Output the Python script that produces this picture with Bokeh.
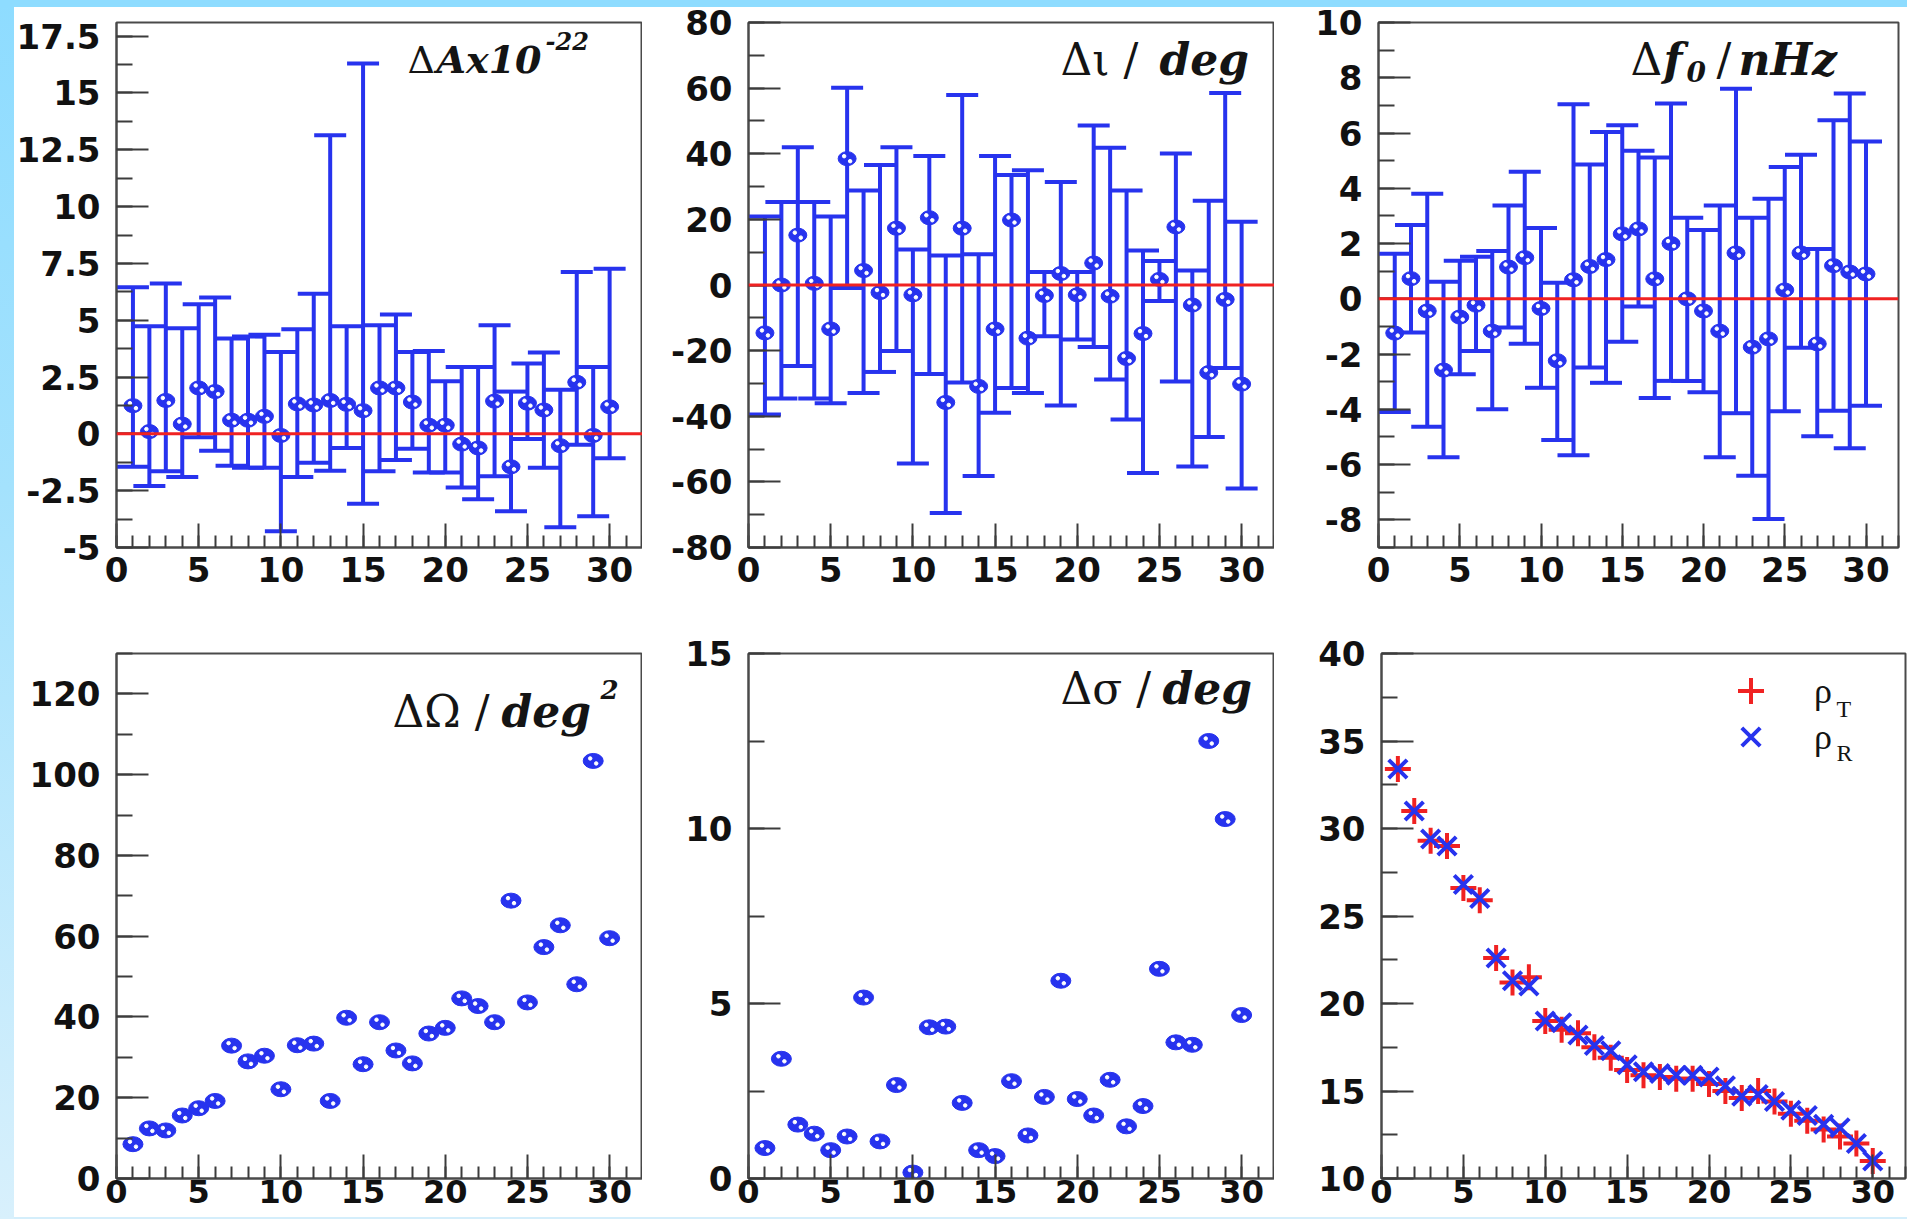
from bokeh.plotting import figure
from bokeh.models import (ColumnDataSource, Span, Label, Legend, LegendItem, Range1d,
                          SingleIntervalTicker, CustomJSTickFormatter, Row, Column)
from bokeh.embed import file_html
from bokeh.resources import INLINE

# ---------------------------------------------------------------- data
idx = list(range(1, 31))

# Delta A (x 10^-22): value, lower and upper end of the error bar
amp_val = [1.24, 0.10, 1.47, 0.43, 2.02, 1.86, 0.60, 0.60, 0.77, -0.07, 1.32, 1.27, 1.47, 1.30, 1.02,
           2.02, 2.02, 1.40, 0.38, 0.38, -0.45, -0.62, 1.44, -1.45, 1.35, 1.05, -0.52, 2.27, -0.07, 1.19]
amp_hi = [6.45, 4.73, 6.62, 4.65, 5.70, 6.00, 4.20, 4.28, 4.36, 3.60, 4.60, 6.17, 13.14, 4.73, 16.30,
          4.78, 5.25, 3.60, 3.65, 2.32, 2.94, 2.94, 4.78, 1.86, 3.10, 3.58, 1.94, 7.12, 2.94, 7.26]
amp_lo = [-1.45, -2.29, -1.65, -1.90, -0.15, -0.74, -1.40, -1.49, -1.49, -4.28, -1.90, -1.27, -1.62, -0.62, -3.08,
          -1.65, -1.15, -0.65, -1.70, -1.70, -2.36, -2.88, -1.87, -3.41, -0.23, -1.49, -4.11, -0.48, -3.63, -1.07]

# Delta iota / deg
inc_val = [-14.6, 0.0, 15.2, 0.5, -13.4, 38.5, 4.4, -2.3, 17.3, -3.0, 20.5, -35.8, 17.3, -30.9, -13.4,
           19.8, -16.2, -3.2, 3.5, -3.0, 6.7, -3.4, -22.4, -14.8, 1.7, 17.7, -6.1, -26.7, -4.4, -30.2]
inc_hi = [20.9, 25.3, 42.0, 25.3, 20.9, 60.1, 28.8, 36.6, 42.0, 10.8, 39.3, 9.0, 57.9, 9.4, 39.3,
          33.5, 35.0, 4.0, 31.4, 4.0, 48.6, 41.8, 28.8, 10.5, 7.3, 40.1, 4.4, 25.7, 58.5, 19.3]
inc_lo = [-39.5, -34.6, -24.7, -34.6, -36.0, -0.9, -32.9, -26.5, -20.1, -54.4, -27.1, -69.5, -29.7, -58.2, -38.9,
          -31.4, -32.9, -15.6, -36.7, -16.6, -18.9, -28.8, -41.0, -57.3, -4.9, -29.4, -55.3, -46.3, -25.3, -62.0]

# Delta f0 / nHz
f0_val = [-1.24, 0.73, -0.44, -2.58, -0.66, -0.23, -1.17, 1.15, 1.49, -0.35, -2.24, 0.69, 1.17, 1.42, 2.35,
          2.53, 0.72, 2.00, 0.00, -0.44, -1.17, 1.66, -1.75, -1.45, 0.32, 1.66, -1.63, 1.20, 0.97, 0.90]
f0_hi = [1.63, 2.67, 3.80, 0.62, 1.38, 1.52, 1.73, 3.38, 4.60, 2.56, 0.58, 7.04, 4.86, 6.04, 6.28,
         5.36, 5.11, 7.07, 2.93, 2.49, 3.38, 7.60, 2.93, 3.62, 4.77, 5.21, 1.80, 6.46, 7.43, 5.69]
f0_lo = [-4.10, -1.22, -4.63, -5.73, -2.73, -1.89, -4.00, -1.04, -1.63, -3.22, -5.11, -5.66, -2.49, -3.04, -1.55,
         -0.28, -3.59, -2.97, -2.97, -3.38, -5.73, -4.14, -6.40, -7.97, -4.07, -1.77, -4.97, -4.05, -5.41, -3.87]

# Delta Omega / deg^2
omega = [8.5, 12.4, 11.9, 15.6, 17.4, 19.2, 32.9, 29.0, 30.4, 22.1, 33.0, 33.4, 19.2, 39.8, 28.3,
         38.7, 31.7, 28.5, 35.9, 37.3, 44.6, 42.7, 38.7, 68.8, 43.6, 57.3, 62.7, 48.1, 103.4, 59.5]

# Delta sigma / deg
sigma = [0.87, 3.42, 1.54, 1.28, 0.81, 1.20, 5.17, 1.06, 2.67, 0.17, 4.32, 4.34, 2.16, 0.81, 0.64,
         2.78, 1.23, 2.33, 5.65, 2.27, 1.80, 2.82, 1.49, 2.07, 5.99, 3.89, 3.82, 12.50, 10.27, 4.67]

# SNR: rho_T and rho_R
rho_t = [33.4, 31.0, 29.3, 29.0, 26.6, 25.9, 22.6, 21.2, 21.5, 19.0, 18.5, 18.3, 17.5, 16.9, 16.2,
         15.9, 15.8, 15.7, 15.7, 15.4, 15.0, 14.6, 15.0, 14.4, 13.7, 13.3, 12.8, 12.4, 12.0, 11.0]
rho_r = [33.4, 31.0, 29.4, 29.0, 26.8, 26.0, 22.6, 21.3, 21.0, 19.0, 18.9, 18.2, 17.6, 17.3, 16.5,
         16.1, 16.0, 15.9, 15.9, 15.8, 15.3, 14.7, 14.8, 14.4, 13.9, 13.6, 13.1, 12.9, 12.0, 11.0]

# ---------------------------------------------------------------- style
BLUE = "#2733ee"
RED = "#f02222"
FRAME = "#4a4a4a"
TICK = "#3c3c3c"
TICK_FONT = "DejaVu Sans"
TEXT_FONT = "DejaVu Serif"
FRAME_W = 526
FRAME_H = 525
X_MAX = 32


def panel(y0, y1, ystep, fw, bl, br, bt, bb, xlabel_size=34, xlabel_standoff=9):
    p = figure(frame_width=fw, frame_height=FRAME_H,
               x_range=Range1d(0, X_MAX), y_range=Range1d(y0, y1),
               min_border_left=bl, min_border_right=br, min_border_top=bt, min_border_bottom=bb,
               output_backend="svg", toolbar_location=None,
               background_fill_color="white", border_fill_alpha=0,
               outline_line_color=FRAME, outline_line_width=2)
    p.grid.visible = False
    p.xaxis.ticker = SingleIntervalTicker(interval=5, num_minor_ticks=5)
    p.yaxis.ticker = SingleIntervalTicker(interval=ystep, num_minor_ticks=2)
    fmt = "return String(Math.round(tick * 100) / 100);"
    for ax in (p.xaxis[0], p.yaxis[0]):
        ax.formatter = CustomJSTickFormatter(code=fmt)
        ax.axis_line_color = FRAME
        ax.axis_line_width = 2
        ax.major_tick_line_color = TICK
        ax.major_tick_line_width = 2
        ax.minor_tick_line_color = TICK
        ax.minor_tick_line_width = 2
        ax.major_tick_out = 0
        ax.minor_tick_out = 0
        ax.major_label_text_font = TICK_FONT
        ax.major_label_text_font_style = "bold"
        ax.major_label_text_font_size = "34px"
        ax.major_label_text_color = "#111111"
    p.xaxis.major_label_text_font_size = f"{xlabel_size}px"
    p.xaxis.major_tick_in = 24
    p.xaxis.minor_tick_in = 12
    p.xaxis.major_label_standoff = xlabel_standoff
    p.yaxis.major_tick_in = 32
    p.yaxis.minor_tick_in = 16
    p.yaxis.major_label_standoff = 16
    return p


def dotted_markers(p, xs, ys, fw, w, h):
    # filled blue ellipses with two small white highlights
    p.ellipse(x=xs, y=ys, width=w, height=h, width_units="screen", height_units="screen",
              fill_color=BLUE, line_color=BLUE, line_width=1)
    dx = 3.0 * (p.x_range.end - p.x_range.start) / fw
    dy = 2.5 * (p.y_range.end - p.y_range.start) / FRAME_H
    p.scatter(x=[x - dx for x in xs], y=[y + dy for y in ys], size=3.5, color="white")
    p.scatter(x=[x + dx for x in xs], y=[y - dy for y in ys], size=3.5, color="white")


def error_panel(p, fw, vals, lo, hi):
    src = ColumnDataSource(dict(x=idx, y=vals, lo=lo, hi=hi))
    p.segment(x0="x", y0="lo", x1="x", y1="hi", source=src, line_color=BLUE, line_width=4)
    p.scatter(x="x", y="hi", source=src, marker="dash", size=32, line_color=BLUE, line_width=4)
    p.scatter(x="x", y="lo", source=src, marker="dash", size=32, line_color=BLUE, line_width=4)
    dotted_markers(p, idx, vals, fw, 18, 14)
    p.add_layout(Span(location=0, dimension="width", line_color=RED, line_width=3))


def texts(p, pieces):
    for txt, x, y, size, style in pieces:
        p.add_layout(Label(x=x, y=y, x_units="screen", y_units="screen", text=txt,
                           text_font=TEXT_FONT, text_font_size=f"{size}px", text_font_style=style,
                           text_color="#141414", text_baseline="alphabetic", text_align="left"))


# ---------------------------------------------------------------- top row
p1 = panel(-5, 18.1, 2.5, FRAME_W, 116, 0, 22, 60)
error_panel(p1, FRAME_W, amp_val, amp_lo, amp_hi)
texts(p1, [("Δ", 291, 488, 38, "normal"),
           ("Ax10", 320, 488, 38, "bold italic"),
           ("-22", 429, 507, 24, "bold italic")])

p2 = panel(-80, 80, 20, FRAME_W, 106, 0, 22, 60)
error_panel(p2, FRAME_W, inc_val, inc_lo, inc_hi)
texts(p2, [("Δι /", 312, 488, 44, "normal"),
           ("deg", 411, 488, 44, "bold italic")])

p3 = panel(-9, 10, 2, 520, 104, 9, 22, 60)
error_panel(p3, 520, f0_val, f0_lo, f0_hi)
texts(p3, [("Δ", 252, 488, 44, "normal"),
           ("f", 285, 488, 44, "bold italic"),
           ("0", 308, 476, 28, "bold italic"),
           ("/", 338, 488, 44, "normal"),
           ("nHz", 360, 488, 44, "bold italic")])

# ---------------------------------------------------------------- bottom row
p4 = panel(0, 130, 20, FRAME_W, 116, 0, 46, 39, xlabel_size=32, xlabel_standoff=1)
dotted_markers(p4, idx, omega, FRAME_W, 20, 15)
texts(p4, [("ΔΩ /", 276, 467, 44, "normal"),
           ("deg", 385, 467, 44, "bold italic"),
           ("2", 484, 489, 26, "bold italic")])

p5 = panel(0, 15, 5, FRAME_W, 106, 0, 46, 39, xlabel_size=32, xlabel_standoff=1)
dotted_markers(p5, idx, sigma, FRAME_W, 20, 15)
texts(p5, [("Δσ /", 312, 490, 44, "normal"),
           ("deg", 414, 490, 44, "bold italic")])

p6 = panel(10, 40, 5, 524, 107, 2, 46, 39, xlabel_size=32, xlabel_standoff=1)
r_t = p6.scatter(x=idx, y=rho_t, marker="cross", size=26, line_color=RED, line_width=4)
r_r = p6.scatter(x=idx, y=rho_r, marker="x", size=26, line_color=BLUE, line_width=4)
for rend, loc in ((r_t, (337, 455)), (r_r, (337, 409))):
    p6.add_layout(Legend(items=[LegendItem(label="ρ", renderers=[rend])],
                         location=loc, orientation="vertical", padding=0, margin=0,
                         glyph_width=65, glyph_height=65, label_standoff=31,
                         label_text_font="Liberation Serif", label_text_font_size="36px",
                         label_text_color="#141414",
                         border_line_alpha=0, background_fill_alpha=0))
for sub, y in (("T", 470), ("R", 426)):
    p6.add_layout(Label(x=455, y=y, x_units="screen", y_units="screen", text=sub,
                        text_font="Liberation Serif", text_font_size="24px", text_color="#141414",
                        text_baseline="alphabetic"))

# ---------------------------------------------------------------- page
page_bg = ("linear-gradient(#8edcff, #8edcff) 0 0 / 100% 7px no-repeat, "
           "linear-gradient(180deg, #8edcff 0%, #a4e2fd 40%, #d8f0fc 100%) 0 0 / 14px 100% no-repeat, "
           "linear-gradient(#d4eefb, #d4eefb) 0 100% / 100% 2px no-repeat, #ffffff")
page = Column(children=[Row(children=[p1, p2, p3], spacing=0),
                        Row(children=[p4, p5, p6], spacing=0)],
              spacing=0, width=1907, height=1219,
              styles={"background": page_bg, "overflow": "hidden"})

open("out.html", "w").write(file_html(page, INLINE))
